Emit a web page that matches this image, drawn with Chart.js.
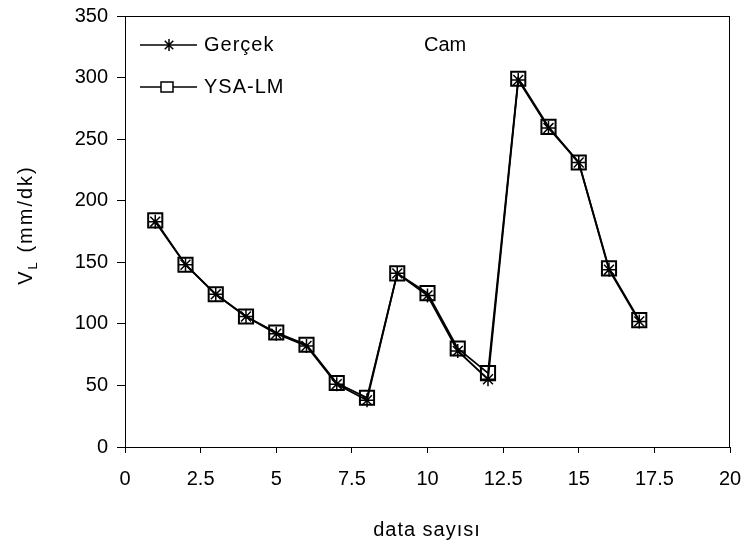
<!DOCTYPE html>
<html>
<head>
<meta charset="utf-8">
<script src="https://cdn.jsdelivr.net/npm/chart.js@4/dist/chart.umd.min.js"></script>
<style>
  html, body { margin: 0; padding: 0; background: #fff; }
  #wrap { width: 745px; height: 547px; }
</style>
</head>
<body>
<div id="wrap"><canvas id="chart" width="745" height="547"></canvas></div>
<script>
// data
let dataNo = [1, 2, 3, 4, 5, 6, 7, 8, 9, 10, 11, 12, 13, 14, 15, 16, 17];
let gercek = [183, 148, 124, 106, 92, 82, 51, 38, 141, 123, 78, 55, 298, 259, 231, 144, 102];
let ysaLm  = [184, 148, 124, 106, 93, 83, 52, 40, 141, 125, 80, 60, 299, 260, 231, 145, 103];
let seriesNames = ["Gerçek", "YSA-LM"];

let fontName = "'Liberation Sans', Arial, sans-serif";
let fontSize = 20;

function toPoints(xs, ys) {
    return xs.map((x, i) => ({ x: x, y: ys[i] }));
}

// box, legend, "Cam" and axis titles
var extras = {
    id: 'extras',
    afterDraw(chart) {
        let c = chart.ctx;
        let a = chart.chartArea;
        c.save();
        c.strokeStyle = '#000';
        c.lineWidth = 1;
        c.strokeRect(a.left + 0.5, a.top + 0.5, a.right - a.left - 1, a.bottom - a.top);

        c.fillStyle = '#000';
        c.font = fontSize + 'px ' + fontName;
        c.textBaseline = 'middle';
        c.textAlign = 'left';
        c.letterSpacing = '1px';

        // legend
        let rows = [45, 87];
        c.lineWidth = 1.5;
        rows.forEach((y, i) => {
            c.beginPath();
            c.moveTo(140, y);
            c.lineTo(197, y);
            c.stroke();
            if (i == 0) {
                let r = 6, cx = 169;
                c.beginPath();
                c.moveTo(cx, y - r); c.lineTo(cx, y + r);
                let d = r * Math.SQRT1_2;
                c.moveTo(cx - d, y - d); c.lineTo(cx + d, y + d);
                c.moveTo(cx - d, y + d); c.lineTo(cx + d, y - d);
                c.stroke();
            } else {
                c.fillStyle = '#fff';
                c.fillRect(161, y - 5, 12, 10);
                c.strokeRect(161, y - 5, 12, 10);
                c.fillStyle = '#000';
            }
            c.fillText(seriesNames[i], 204, y);
        });

        c.letterSpacing = '0px';
        c.fillText('Cam', 424, 45);

        // x title
        c.textAlign = 'center';
        c.letterSpacing = '1px';
        c.fillText('data sayısı', 427, 530);

        // y title with subscript
        c.translate(26, 225);
        c.rotate(-Math.PI / 2);
        c.textAlign = 'left';
        c.letterSpacing = '2px';
        let main = 'V';
        let rest = ' (mm/dk)';
        c.font = fontSize + 'px ' + fontName;
        let w1 = c.measureText(main).width;
        c.font = '13px ' + fontName;
        let w2 = c.measureText('L').width;
        c.font = fontSize + 'px ' + fontName;
        let w3 = c.measureText(rest).width;
        let x0 = -(w1 + w2 + w3) / 2;
        c.fillText(main, x0, 0);
        c.font = '13px ' + fontName;
        c.fillText('L', x0 + w1, 7);
        c.font = fontSize + 'px ' + fontName;
        c.fillText(rest, x0 + w1 + w2, 0);
        c.restore();
    }
};

new Chart(document.getElementById("chart"), {
    type: 'line',
    data: {
        datasets: [
            {
                label: seriesNames[0],
                data: toPoints(dataNo, gercek),
                borderColor: '#000',
                borderWidth: 1.8,
                pointStyle: 'star',
                pointRadius: 7,
                pointBorderWidth: 1.5,
                pointBorderColor: '#000',
                pointBackgroundColor: 'transparent',
                tension: 0
            },
            {
                label: seriesNames[1],
                data: toPoints(dataNo, ysaLm),
                borderColor: '#000',
                borderWidth: 1.8,
                pointStyle: 'rect',
                pointRadius: 10,
                pointBorderWidth: 2,
                pointBorderColor: '#000',
                pointBackgroundColor: 'transparent',
                tension: 0
            }
        ]
    },
    options: {
        responsive: false,
        animation: false,
        layout: { padding: { top: 16, right: 15, left: 0, bottom: 0 } },
        plugins: {
            legend: { display: false },
            tooltip: { enabled: false }
        },
        scales: {
            x: {
                type: 'linear',
                min: 0,
                max: 20,
                ticks: {
                    stepSize: 2.5,
                    color: '#000',
                    padding: 14,
                    font: { family: fontName, size: fontSize }
                },
                grid: {
                    drawOnChartArea: false,
                    tickLength: 6,
                    color: '#000'
                },
                border: { color: '#000', width: 1 },
                afterFit(scale) {
                    scale.height = 100;
                    scale.paddingLeft = 0;
                    scale.paddingRight = 0;
                }
            },
            y: {
                min: 0,
                max: 350,
                ticks: {
                    stepSize: 50,
                    color: '#000',
                    padding: 9,
                    font: { family: fontName, size: fontSize }
                },
                grid: {
                    drawOnChartArea: false,
                    tickLength: 8,
                    color: '#000'
                },
                border: { color: '#000', width: 1 },
                afterFit(scale) {
                    scale.width = 125;
                    scale.paddingTop = 0;
                    scale.paddingBottom = 0;
                }
            }
        }
    },
    plugins: [extras]
});
</script>
</body>
</html>
